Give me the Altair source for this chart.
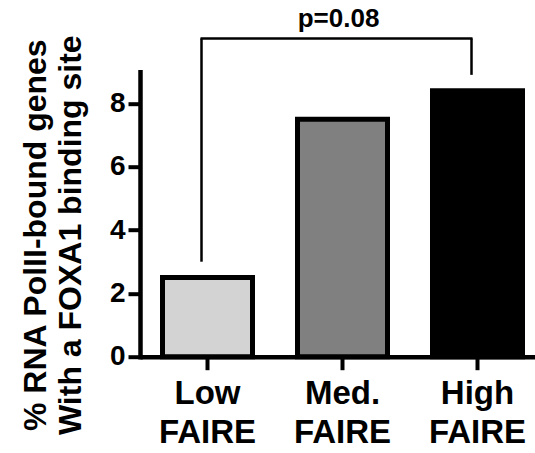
import altair as alt
import pandas as pd

# ---- data ----
categories = ["Low FAIRE", "Med. FAIRE", "High FAIRE"]
values = [2.5, 7.5, 8.4]
fills = ["#d3d3d3", "#808080", "#000000"]
y_ticks = [0, 2, 4, 6, 8]
y_title = ["% RNA PolII-bound genes", "With a FOXA1 binding site"]

# significance bracket (data units)
bracket_cats = ["Low FAIRE", "High FAIRE"]
bracket_bottoms = [3.0, 8.9]
bracket_top = [10.05]
p_label = ["p=0.08"]
p_label_cat = ["Med. FAIRE"]
p_label_y = [10.4]

FONT = "Liberation Sans"

bars_df = pd.DataFrame({"cat": categories, "value": values, "fill": fills})
vert_df = pd.DataFrame({"cat": bracket_cats, "y": bracket_bottoms,
                        "y2": bracket_top * len(bracket_cats)})
horiz_df = pd.DataFrame({"cat": [bracket_cats[0]], "cat2": [bracket_cats[1]],
                         "y": bracket_top})
text_df = pd.DataFrame({"cat": p_label_cat, "y": p_label_y, "label": p_label})

x_scale = alt.Scale(domain=categories, paddingInner=1 / 3, paddingOuter=1 / 6)
y_scale = alt.Scale(domain=[0, 9], nice=False)

bars = alt.Chart(bars_df).mark_bar(stroke="black", strokeWidth=5).encode(
    x=alt.X("cat:N", scale=x_scale, sort=categories,
            axis=alt.Axis(title=None, labelAngle=0,
                          labelExpr="split(datum.label, ' ')",
                          labelFont=FONT, labelFontWeight="bold",
                          labelFontSize=33, labelLineHeight=39,
                          labelColor="black", labelPadding=8,
                          labelBaseline="top",
                          domainColor="black", domainWidth=4.5,
                          tickColor="black", tickWidth=4, tickSize=13)),
    y=alt.Y("value:Q", scale=y_scale,
            axis=alt.Axis(values=y_ticks, grid=False, title=y_title,
                          titleFont=FONT, titleFontWeight="bold",
                          titleFontSize=32, titleLineHeight=35,
                          titleColor="black", titleAngle=-90,
                          titleAlign="center", titleBaseline="alphabetic",
                          titleX=-95, titleY=163,
                          labelFont=FONT, labelFontWeight="bold",
                          labelFontSize=28, labelColor="black",
                          labelPadding=3,
                          domainColor="black", domainWidth=4.5,
                          domainCap="square",
                          tickColor="black", tickWidth=4, tickSize=12)),
    fill=alt.Fill("fill:N", scale=None),
)

verts = alt.Chart(vert_df).mark_rule(color="black", strokeWidth=2.5,
                                     xOffset=-6).encode(
    x=alt.X("cat:N", scale=x_scale, sort=categories),
    y=alt.Y("y:Q", scale=y_scale),
    y2="y2:Q",
)

horiz = alt.Chart(horiz_df).mark_rule(color="black", strokeWidth=2.5,
                                      xOffset=-7, x2Offset=-5).encode(
    x=alt.X("cat:N", scale=x_scale, sort=categories),
    x2="cat2:N",
    y=alt.Y("y:Q", scale=y_scale),
)

ptext = alt.Chart(text_df).mark_text(font=FONT, fontWeight="bold",
                                     fontSize=26, color="black",
                                     baseline="alphabetic", align="center",
                                     dx=-4).encode(
    x=alt.X("cat:N", scale=x_scale, sort=categories),
    y=alt.Y("y:Q", scale=y_scale),
    text="label:N",
)

chart = alt.layer(bars, verts, horiz, ptext).properties(
    width=405, height=285,
    autosize=alt.AutoSizeParams(type="none"),
    padding={"left": 140, "top": 71.7, "right": -10, "bottom": 96.3},
    background="white",
).configure_view(stroke=None)

chart.save("out.html", embed_options={"renderer": "svg", "actions": False})
